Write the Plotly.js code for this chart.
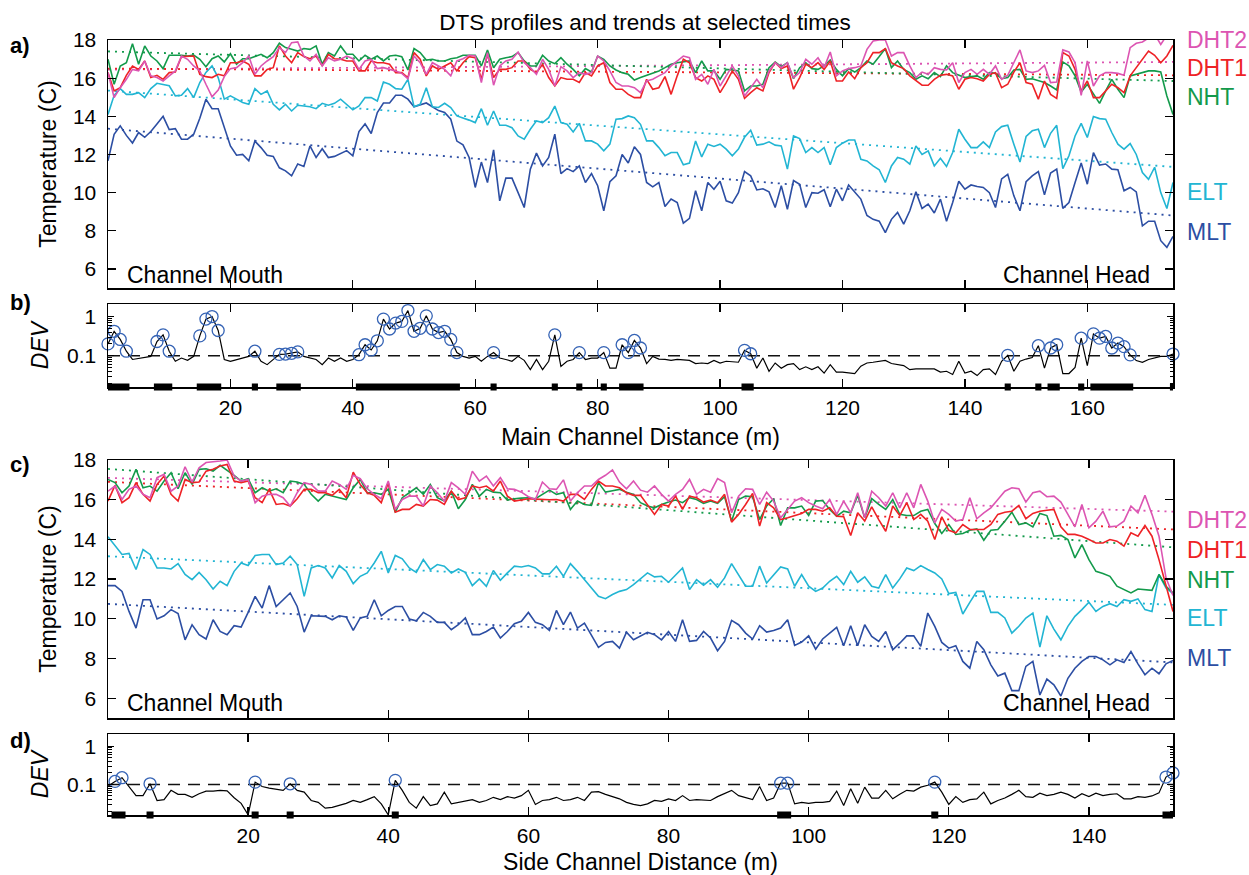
<!DOCTYPE html>
<html>
<head>
<meta charset="utf-8">
<script src="https://cdn.plot.ly/plotly-3.0.1.min.js"></script>
<style>html,body{margin:0;padding:0;background:#fff;}#chart{width:1249px;height:875px;}</style>
</head>
<body>
<div id="chart"></div>
<script>
// ---------- DATA ----------
const seriesNames = ['DHT2', 'DHT1', 'NHT', 'ELT', 'MLT'];
const distMain = Array.from({length: 175}, (_, i) => i);   // main channel distance (m)
const distSide = Array.from({length: 153}, (_, i) => i);   // side channel distance (m)

// Panel a: main channel temperatures (C)
const mltMain = [11.67,13.06,13.5,13.0,12.6,13.15,12.9,13.2,13.6,14.0,
13.3,13.35,12.8,12.8,13.06,13.9,14.9,14.4,14.4,13.4,
12.45,11.96,12.0,11.67,12.7,12.36,11.96,11.9,11.3,11.14,
10.88,11.5,11.37,12.45,11.84,12.3,11.84,11.9,12.05,12.2,
11.93,13.2,13.6,13.1,14.2,14.7,14.7,15.1,15.1,14.9,
14.5,14.6,14.7,14.5,14.3,14.2,13.85,12.7,12.5,11.84,
10.27,11.6,10.53,12.24,9.57,10.76,10.76,10.0,9.22,11.23,
12.07,11.4,11.84,13.06,11.0,11.26,11.1,11.4,10.53,11.0,
10.36,9.05,10.58,10.88,12.0,11.55,12.4,12.0,10.53,10.3,
10.53,9.27,9.66,9.48,8.4,8.65,10.1,9.05,10.53,10.18,
10.6,9.57,9.45,10.0,11.1,10.88,10.14,10.2,10.04,9.22,
10.36,9.13,10.63,10.44,9.22,10.0,9.97,10.15,9.26,10.18,
9.57,10.4,10.0,9.66,8.8,8.6,8.5,7.9,8.6,8.96,
8.35,9.05,10.04,9.17,9.4,8.93,9.66,8.5,9.48,10.6,
10.18,10.4,10.32,10.27,10.0,9.22,10.72,10.96,9.83,9.05,
10.57,10.88,11.1,9.88,11.03,11.23,9.17,9.48,10.53,11.55,
10.44,12.1,11.44,11.5,11.23,11.2,10.1,10.27,10.04,8.26,
8.5,8.5,7.48,7.13,7.7];
const eltMain = [14.1,15.1,15.45,15.15,15.15,15.24,14.98,15.45,15.73,15.68,
15.6,15.07,15.1,15.45,14.98,15.77,16.3,16.64,16.03,14.9,
15.07,14.9,14.72,14.63,15.45,15.15,15.33,14.63,14.34,14.63,
14.28,14.58,14.54,14.5,14.4,14.68,14.58,14.68,14.9,14.6,
14.34,14.54,14.98,14.98,14.8,15.8,15.68,15.45,15.42,15.94,
14.5,14.63,15.5,14.5,14.46,14.68,14.46,14.02,13.93,13.8,
13.67,14.4,13.53,14.28,13.53,13.53,13.4,12.97,12.8,13.32,
13.76,13.67,13.93,14.54,13.67,13.58,13.18,13.63,12.71,12.71,
12.54,12.19,12.54,13.85,13.88,14.02,13.93,13.58,12.71,12.71,
12.36,11.93,12.1,12.1,11.46,11.55,12.71,11.87,12.54,12.42,
12.54,12.28,11.93,12.28,12.9,13.27,12.49,12.54,12.66,12.49,
12.45,11.23,12.97,12.83,12.1,12.36,12.1,12.36,11.46,12.36,
12.59,12.76,12.76,11.75,11.66,11.4,11.2,10.53,11.4,11.84,
11.75,11.49,12.45,12.0,12.19,11.4,11.8,11.37,12.1,13.32,
12.8,12.36,12.36,12.66,12.36,13.18,13.46,13.53,12.54,11.6,
12.94,13.24,13.32,12.36,13.11,13.53,11.26,11.93,12.97,13.63,
12.89,13.99,13.88,13.85,13.15,12.54,12.28,12.57,12.0,11.05,
10.7,11.33,10.0,9.17,10.53];
const nhtMain = [16.99,15.68,16.64,16.81,17.8,16.73,17.69,17.16,16.9,16.5,
17.2,17.2,17.2,17.16,17.21,16.99,16.6,17.02,17.16,16.85,
17.28,16.73,17.02,17.02,17.13,17.25,17.07,17.34,17.83,17.6,
17.51,17.42,17.55,17.51,17.69,16.73,17.34,17.16,17.69,17.25,
17.25,16.9,17.2,16.99,17.16,16.9,17.16,17.2,17.13,16.43,
17.55,17.34,16.95,16.99,16.9,16.9,17.02,17.07,17.2,17.2,
17.2,16.64,17.48,16.55,16.99,17.07,17.13,17.34,16.9,16.64,
16.64,17.2,16.9,16.76,17.07,16.73,16.46,16.12,16.5,16.32,
17.16,16.99,16.64,16.43,16.29,16.2,15.9,16.03,16.15,16.29,
16.38,16.55,16.73,16.81,16.85,16.9,16.29,16.9,16.38,16.38,
15.94,16.46,16.43,16.38,15.33,15.59,15.59,15.68,16.55,16.85,
16.6,16.81,15.97,16.55,16.81,16.5,16.46,16.64,16.95,16.46,
16.12,16.5,16.32,16.55,16.9,16.73,17.13,17.55,16.55,16.9,
16.46,16.29,15.94,16.12,15.97,16.29,16.08,16.64,16.29,16.15,
16.03,16.08,16.12,15.94,16.29,16.25,15.97,16.03,16.43,16.46,
15.94,15.97,15.85,15.77,15.59,15.38,16.85,16.64,16.12,15.28,
15.68,15.15,14.68,15.33,15.94,15.42,14.98,16.12,16.2,16.32,
16.38,16.38,16.32,15.07,14.1];
const dht1Main = [16.29,15.33,15.5,16.15,16.64,16.46,16.9,16.03,16.15,15.94,
16.29,16.32,17.13,17.13,17.16,16.2,16.08,16.03,16.2,16.12,
16.81,16.81,16.9,16.73,16.12,16.12,16.46,16.55,17.69,17.16,
16.81,17.34,17.13,17.02,17.16,16.64,17.25,17.02,16.99,16.9,
16.9,16.38,16.38,16.9,16.81,16.81,16.73,16.29,16.29,16.03,
17.34,16.99,16.12,16.64,16.46,16.64,16.81,16.38,16.81,17.13,
17.07,15.94,17.25,16.03,16.46,16.46,16.55,16.9,16.9,16.46,
16.29,16.73,16.03,15.59,16.03,15.94,15.94,15.77,16.29,16.12,
16.64,16.81,15.77,15.42,15.42,15.15,14.98,14.98,15.94,15.42,
15.5,16.08,15.15,16.12,16.99,16.81,16.03,15.85,16.12,15.94,
15.24,15.77,16.38,15.94,14.94,15.24,15.5,15.33,16.29,16.81,
16.5,16.64,15.42,16.03,16.73,16.55,16.81,16.46,16.9,15.85,
15.85,16.32,15.97,16.55,16.81,17.34,17.34,17.55,16.81,16.64,
16.5,16.12,15.85,15.63,15.63,15.94,16.15,16.2,16.12,15.42,
15.94,16.03,15.97,15.85,16.2,16.29,15.5,15.68,16.32,16.81,
15.77,15.68,14.9,15.85,15.15,14.94,17.34,17.16,16.46,15.33,
15.85,14.98,14.98,15.33,15.68,15.5,15.24,16.12,16.55,17.02,
17.42,17.2,16.81,17.16,17.72];
const dht2Main = [16.29,14.98,15.5,15.94,16.46,16.38,16.9,16.12,16.03,15.85,
16.12,16.38,17.16,16.99,16.64,16.38,15.68,15.02,15.38,16.08,
16.5,16.55,16.81,17.16,16.2,16.64,16.9,17.13,17.6,17.34,
17.86,17.9,17.16,16.9,17.25,16.64,17.07,16.9,16.99,17.16,
17.02,16.46,16.9,16.99,16.5,16.55,16.46,16.38,16.25,15.97,
17.16,16.81,16.2,16.81,16.64,16.46,16.12,16.9,17.02,17.2,
17.16,15.77,17.34,15.63,16.64,16.9,16.99,17.37,16.81,16.55,
16.2,16.99,16.46,15.59,16.6,16.38,16.03,16.29,16.2,16.29,
17.16,16.9,16.38,15.77,15.59,15.59,15.5,15.24,15.85,15.94,
16.12,16.29,16.64,16.9,17.16,17.07,15.94,16.2,15.68,16.46,
15.59,16.12,16.64,16.12,15.07,15.5,15.94,15.5,16.38,16.81,
16.55,16.81,16.03,16.29,16.99,16.73,17.07,16.55,17.37,16.12,
16.38,16.5,16.55,16.64,17.51,17.95,18.0,18.0,17.16,17.34,
17.34,16.64,16.03,16.32,16.2,16.55,16.46,16.43,16.81,15.77,
16.29,16.46,16.2,16.46,16.2,16.64,15.94,16.15,16.81,17.48,
16.38,16.29,16.38,16.67,15.77,15.8,17.48,17.37,16.81,15.1,
16.9,15.59,16.12,16.29,16.29,16.25,16.15,17.6,17.83,17.9,
18.1,18.3,17.77,18.25,18.4];

// Linear trends (value at start, value at end of channel)
const trendMainStart = {DHT2: 16.45, DHT1: 16.5, NHT: 17.4, ELT: 15.35, MLT: 13.35};
const trendMainEnd   = {DHT2: 16.85, DHT1: 16.15, NHT: 15.85, ELT: 11.35, MLT: 8.8};

// Panel b: DEV for main channel
const devMain = [0.2,0.42,0.26,0.13,0.08,0.085,0.09,0.096,0.23,0.34,
0.13,0.072,0.087,0.076,0.096,0.32,0.86,1.0,0.44,0.08,
0.072,0.08,0.087,0.096,0.13,0.072,0.059,0.08,0.108,0.11,
0.115,0.125,0.096,0.087,0.08,0.059,0.087,0.072,0.087,0.072,
0.08,0.106,0.19,0.14,0.24,0.86,0.48,0.68,0.75,1.42,
0.42,0.5,1.04,0.48,0.39,0.42,0.26,0.12,0.096,0.087,
0.096,0.072,0.096,0.12,0.087,0.08,0.072,0.096,0.076,0.044,
0.08,0.044,0.072,0.34,0.053,0.072,0.08,0.12,0.08,0.087,
0.087,0.12,0.048,0.048,0.19,0.12,0.245,0.157,0.063,0.096,
0.082,0.08,0.076,0.08,0.078,0.076,0.063,0.065,0.063,0.076,
0.065,0.072,0.07,0.068,0.137,0.112,0.048,0.087,0.04,0.065,
0.048,0.059,0.063,0.044,0.052,0.044,0.052,0.036,0.059,0.038,
0.038,0.036,0.035,0.054,0.065,0.068,0.072,0.076,0.063,0.06,
0.056,0.044,0.046,0.046,0.046,0.046,0.038,0.04,0.033,0.072,
0.036,0.04,0.031,0.044,0.046,0.033,0.072,0.102,0.04,0.072,
0.082,0.09,0.18,0.048,0.157,0.19,0.035,0.035,0.05,0.28,
0.056,0.36,0.28,0.31,0.157,0.21,0.17,0.105,0.075,0.068,
0.08,0.088,0.096,0.096,0.11];

// Panel c: side channel temperatures (C)
const mltSide = [11.67,11.67,11.38,10.37,9.53,10.96,10.96,9.99,10.15,10.46,
10.26,8.94,9.7,9.2,8.98,9.95,9.36,9.2,9.65,9.58,
10.32,11.13,10.54,11.67,10.62,10.96,11.3,10.62,9.33,10.15,
10.15,10.12,9.95,10.15,10.09,9.41,10.04,10.12,10.96,10.15,
10.42,10.62,10.62,9.99,9.9,10.32,10.12,9.82,9.82,9.45,
9.7,10.04,9.2,9.2,9.36,9.58,9.03,9.36,9.75,9.87,
10.32,9.82,9.7,9.41,10.42,9.7,10.34,9.53,9.78,9.2,
8.56,8.81,8.86,8.52,9.32,8.94,9.14,9.32,9.2,8.94,
9.36,8.86,9.95,8.86,8.91,9.36,9.03,8.39,8.86,9.92,
9.7,9.28,8.98,9.65,9.33,9.41,9.53,9.95,8.66,8.83,
9.14,8.47,8.98,9.28,9.57,8.64,9.65,8.64,9.7,9.11,
8.86,9.36,8.44,8.77,9.14,9.14,8.61,10.29,9.62,8.81,
8.52,8.64,7.85,7.51,8.86,8.44,7.68,7.12,7.26,6.38,
6.38,7.6,7.85,6.16,6.96,6.67,6.11,7.0,7.51,7.85,
8.1,8.1,7.93,7.68,7.93,7.8,8.35,7.73,7.18,7.51,
7.23,7.73,7.9];
const eltSide = [14.13,13.66,13.24,13.29,12.48,13.49,13.24,12.56,12.56,12.51,
12.78,12.23,11.97,12.34,11.97,11.5,11.89,11.67,12.39,12.81,
12.68,13.19,13.24,13.24,12.73,12.81,13.15,12.73,11.13,12.56,
12.68,12.56,12.06,12.68,12.39,11.77,12.14,12.31,12.81,13.4,
12.31,13.19,13.02,12.56,12.34,12.98,12.48,12.73,12.65,12.31,
12.51,12.34,11.67,12.01,11.64,12.43,11.94,12.31,12.65,12.61,
12.68,12.56,12.26,12.26,12.65,12.14,12.78,12.39,11.97,11.5,
11.13,11.01,11.22,11.38,11.47,11.72,12.01,12.31,12.11,12.14,
11.84,12.18,12.56,11.47,11.97,11.69,11.97,11.59,12.06,12.78,
12.18,11.64,11.64,12.65,11.8,12.18,12.61,12.51,11.64,12.23,
11.64,11.38,11.55,11.89,12.14,11.72,12.39,11.84,12.11,11.64,
11.55,12.23,11.55,12.01,12.56,12.43,12.68,12.48,12.31,12.01,
11.27,11.33,10.24,10.83,11.38,11.38,10.32,10.32,10.04,9.28,
9.62,10.04,10.29,8.57,10.15,9.48,8.94,9.62,10.12,10.46,
10.83,10.37,10.62,10.76,10.62,10.96,10.88,11.0,10.46,10.37,
12.23,11.55,11.27];
const nhtSide = [17.02,16.86,16.35,16.69,17.53,16.6,16.69,16.43,16.94,17.36,
16.55,17.36,16.77,17.53,17.56,17.44,17.73,17.5,17.23,16.94,
17.06,16.35,16.6,16.43,16.55,16.35,16.94,16.89,16.77,16.27,
15.93,16.27,16.18,16.1,16.01,16.6,17.02,16.35,16.35,16.27,
16.52,15.37,16.1,16.35,16.6,16.27,16.77,16.1,15.93,16.43,
15.54,16.01,16.77,16.18,16.52,16.38,16.35,15.98,16.05,16.08,
16.1,16.05,16.27,16.48,16.27,16.35,15.51,15.93,15.76,15.71,
16.86,16.38,16.45,16.52,16.38,16.27,15.85,15.68,15.59,15.76,
15.88,15.98,15.85,16.1,16.01,15.81,15.93,15.81,16.15,14.92,
16.01,16.18,16.15,15.0,15.68,16.05,14.7,15.59,15.59,15.68,
15.2,15.93,15.96,15.51,15.17,15.42,15.34,16.22,15.09,16.05,
15.76,15.51,16.01,15.26,15.2,15.2,15.42,15.51,14.8,14.3,
14.75,14.25,14.3,14.46,14.53,13.96,14.46,14.5,14.92,15.37,
14.75,14.83,14.63,15.31,15.2,14.16,14.2,13.99,13.07,13.74,
12.98,12.39,12.28,12.14,11.64,11.47,11.3,11.5,11.47,11.43,
12.23,11.64,11.3];
const dht1Side = [15.93,16.72,15.85,16.1,16.86,16.27,15.93,16.77,17.19,16.27,
15.93,17.02,16.86,16.89,17.44,17.53,17.7,17.78,16.94,16.86,
16.94,16.1,15.85,16.52,15.76,15.81,15.68,16.05,16.52,16.52,
16.35,16.35,16.22,16.52,16.1,17.39,16.77,16.35,16.22,15.85,
16.86,15.37,15.51,15.51,15.76,15.68,16.01,15.98,15.76,16.43,
16.01,16.1,16.69,16.6,16.69,16.43,16.94,16.18,15.93,16.0,
16.05,16.03,16.01,16.0,16.01,15.93,16.27,16.27,16.01,16.52,
16.94,16.69,16.69,16.6,16.35,16.22,16.22,15.76,15.26,15.76,
15.68,16.18,15.51,16.18,16.1,15.88,15.98,15.85,16.27,14.87,
15.26,15.76,16.32,14.67,15.85,15.59,15.0,15.09,15.2,15.31,
15.51,15.51,15.42,15.59,15.17,15.14,14.2,15.34,14.92,15.64,
15.0,14.41,15.68,15.2,15.85,15.0,15.26,14.92,13.99,15.14,
14.46,14.33,14.75,14.5,14.5,14.5,14.75,15.26,15.37,15.42,
15.71,15.04,15.31,15.42,15.47,15.51,14.63,14.25,14.25,14.16,
13.99,13.82,13.82,13.99,13.91,13.66,14.33,14.16,14.7,14.16,
12.98,11.64,10.37];
const dht2Side = [16.43,16.69,16.01,16.52,16.69,16.27,16.1,17.11,17.28,16.43,
16.69,17.66,16.89,17.61,17.87,17.9,17.95,18.0,17.19,16.94,
17.02,15.85,16.18,16.27,16.27,16.1,15.68,16.35,16.86,16.77,
16.43,16.43,16.94,16.77,16.52,17.23,17.06,16.55,16.27,16.05,
16.94,15.51,16.01,16.18,16.18,15.68,16.69,16.35,15.93,16.86,
16.6,16.27,17.44,16.94,17.19,16.69,17.11,16.55,16.52,16.38,
16.15,16.01,16.89,16.55,16.52,17.0,15.93,16.35,16.69,16.69,
17.02,17.23,17.5,16.89,16.55,16.94,16.48,16.38,16.69,16.27,
15.93,16.27,16.52,17.02,16.27,16.52,16.38,17.06,16.86,15.34,
16.18,16.55,16.52,15.76,16.38,15.93,15.09,15.51,15.93,16.1,
15.85,15.68,15.54,16.01,15.26,15.93,15.34,16.35,15.09,16.43,
16.1,15.68,16.35,15.59,16.35,15.59,16.77,15.93,14.83,15.51,
15.26,14.92,15.0,16.1,15.04,15.34,15.59,16.01,16.43,16.6,
16.55,15.88,16.35,16.43,16.15,16.18,15.88,15.26,14.63,15.76,
14.58,14.92,15.42,14.63,14.67,14.92,15.68,15.34,16.22,15.26,
14.16,12.06,11.17];

const trendSideStart = {DHT2: 17.1, DHT1: 16.9, NHT: 17.55, ELT: 13.15, MLT: 10.75};
const trendSideEnd   = {DHT2: 15.4, DHT1: 14.5, NHT: 13.6, ELT: 10.7, MLT: 7.8};

// Panel d: DEV for side channel
const devSide = [0.09,0.12,0.15,0.085,0.051,0.051,0.104,0.038,0.04,0.07,
0.055,0.055,0.046,0.057,0.067,0.067,0.07,0.068,0.045,0.032,
0.016,0.115,0.088,0.08,0.075,0.07,0.104,0.07,0.063,0.038,
0.034,0.024,0.025,0.028,0.032,0.038,0.034,0.04,0.048,0.031,
0.016,0.128,0.07,0.034,0.024,0.048,0.028,0.031,0.063,0.031,
0.034,0.038,0.04,0.034,0.038,0.046,0.04,0.048,0.044,0.051,
0.07,0.03,0.038,0.04,0.046,0.038,0.04,0.046,0.038,0.063,
0.065,0.055,0.048,0.042,0.034,0.03,0.028,0.031,0.038,0.036,
0.042,0.038,0.051,0.038,0.04,0.039,0.038,0.048,0.059,0.07,
0.051,0.045,0.04,0.088,0.038,0.044,0.108,0.108,0.031,0.034,
0.032,0.034,0.034,0.036,0.067,0.028,0.077,0.032,0.085,0.044,
0.044,0.07,0.042,0.055,0.07,0.067,0.085,0.095,0.115,0.063,
0.03,0.048,0.034,0.04,0.042,0.063,0.031,0.038,0.044,0.055,
0.07,0.048,0.046,0.059,0.051,0.055,0.063,0.055,0.044,0.057,
0.048,0.059,0.051,0.055,0.057,0.042,0.042,0.048,0.046,0.05,
0.06,0.156,0.2];

const devThreshold = 0.1;
const tempTicks = [6, 8, 10, 12, 14, 16, 18];
const mainTicks = [20, 40, 60, 80, 100, 120, 140, 160];
const sideTicks = [20, 40, 60, 80, 100, 120, 140];
const devTickVals = [0.1, 1];
const devTickText = ['0.1', '1'];

// ---------- STYLE ----------
const colors = {DHT2: '#dc55b2', DHT1: '#ee2226', NHT: '#139a4b', ELT: '#22b5d3', MLT: '#2c4ea3'};
const circleColor = '#3563b5';
const FONT = 'Liberation Sans, Arial, Helvetica, sans-serif';
const W = 1249, H = 875;
const M = {l: 108, r: 76, t: 40, b: 50};
const devLogRange = [-1.8, 0.32];
const px = x => (x - M.l) / (W - M.l - M.r);
const py = y => (H - M.b - y) / (H - M.t - M.b);

// ---------- TRACES ----------
const traces = [];
function addPanel(dist, dataMap, tStart, tEnd, xa, ya) {
  const xEnd = dist[dist.length - 1];
  seriesNames.forEach(n => {
    traces.push({x: [dist[0], xEnd], y: [tStart[n], tEnd[n]], xaxis: xa, yaxis: ya,
      mode: 'lines', line: {color: colors[n], width: 1.8, dash: '2px,5px'}, hoverinfo: 'skip'});
  });
  ['MLT', 'ELT', 'NHT', 'DHT1', 'DHT2'].forEach(n => {
    traces.push({x: dist, y: dataMap[n], xaxis: xa, yaxis: ya, mode: 'lines', name: n,
      line: {color: colors[n], width: 1.6}});
  });
}
addPanel(distMain, {DHT2: dht2Main, DHT1: dht1Main, NHT: nhtMain, ELT: eltMain, MLT: mltMain},
  trendMainStart, trendMainEnd, 'x', 'y');
addPanel(distSide, {DHT2: dht2Side, DHT1: dht1Side, NHT: nhtSide, ELT: eltSide, MLT: mltSide},
  trendSideStart, trendSideEnd, 'x3', 'y3');

function addDev(dist, dev, xa, ya, barAxis) {
  const xEnd = dist[dist.length - 1];
  traces.push({x: [dist[0], xEnd], y: [devThreshold, devThreshold], xaxis: xa, yaxis: ya,
    mode: 'lines', line: {color: '#111', width: 1.6, dash: '12px,8px'}, hoverinfo: 'skip'});
  traces.push({x: dist, y: dev, xaxis: xa, yaxis: ya, mode: 'lines', line: {color: '#000', width: 1.2}});
  const fx = [], fy = [];
  dist.forEach((d, i) => { if (dev[i] > devThreshold) { fx.push(d); fy.push(dev[i]); } });
  traces.push({x: fx, y: fy, xaxis: xa, yaxis: ya, mode: 'markers', cliponaxis: false,
    marker: {symbol: 'circle-open', size: 12, color: circleColor, line: {width: 1.3, color: circleColor}}});
  // solid bars under runs of consecutive flagged samples, on a thin strip axis straddling the bottom axis line
  const bx = [], by = [];
  let runStart = null, prev = null;
  fx.forEach(d => {
    if (runStart === null) { runStart = d; }
    else if (d - prev > 1) { bx.push(runStart - 0.5, prev + 0.5, null); by.push(0.5, 0.5, null); runStart = d; }
    prev = d;
  });
  if (runStart !== null) { bx.push(runStart - 0.5, prev + 0.5, null); by.push(0.5, 0.5, null); }
  traces.push({x: bx, y: by, xaxis: xa, yaxis: barAxis, mode: 'lines', connectgaps: false,
    line: {color: '#000', width: 7}, hoverinfo: 'skip'});
}
addDev(distMain, devMain, 'x2', 'y2', 'y5');
addDev(distSide, devSide, 'x4', 'y4', 'y6');

// ---------- LAYOUT ----------
const tickFont = {family: FONT, size: 21, color: '#000'};
const baseAxis = {showline: true, linecolor: '#000', linewidth: 1.5, mirror: 'ticks',
  ticks: 'inside', ticklen: 8, tickwidth: 1.3, tickcolor: '#000', showgrid: false, zeroline: false,
  tickfont: tickFont, fixedrange: true};
const minorVals = [0.02,0.03,0.04,0.05,0.06,0.07,0.08,0.09,0.2,0.3,0.4,0.5,0.6,0.7,0.8,0.9,2];
const devAxis = (domain) => Object.assign({}, baseAxis, {type: 'log', domain: domain, range: devLogRange,
  tickmode: 'array', tickvals: devTickVals, ticktext: devTickText, ticklen: 6, ticklabelstandoff: 6,
  minor: {tickmode: 'array', tickvals: minorVals, ticks: 'inside', ticklen: 3.5, tickwidth: 1, tickcolor: '#000'},
  title: {text: '<i>DEV</i>', font: {family: FONT, size: 23}, standoff: 12}});
const tempAxis = (domain) => Object.assign({}, baseAxis, {domain: domain, range: [5, 18],
  tickmode: 'array', tickvals: tempTicks, ticklabelstandoff: 6,
  title: {text: 'Temperature (C)', font: {family: FONT, size: 23}, standoff: 10}});
const stripAxis = (anchor, yBottom) => ({domain: [py(yBottom + 4.5), py(yBottom - 4.5)], anchor: anchor,
  range: [0, 1], visible: false, fixedrange: true, showgrid: false, zeroline: false, showline: false});

const dA = [py(288), py(40)], dB = [py(387), py(304)], dC = [py(718), py(460)], dD = [py(815), py(734)];

const ann = [];
function text(t, x, y, opts) {
  ann.push(Object.assign({text: t, xref: 'paper', yref: 'paper', x: px(x), y: py(y),
    xanchor: 'left', yanchor: 'middle', showarrow: false, font: {family: FONT, size: 23, color: '#000'}}, opts || {}));
}
text('<b>a)</b>', 8, 45, {font: {family: FONT, size: 22, color: '#000'}});
text('<b>b)</b>', 8, 302, {font: {family: FONT, size: 22, color: '#000'}});
text('<b>c)</b>', 8, 464, {font: {family: FONT, size: 22, color: '#000'}});
text('<b>d)</b>', 8, 740, {font: {family: FONT, size: 22, color: '#000'}});
text('Channel Mouth', 125, 275);
text('Channel Head', 1152, 275, {xanchor: 'right'});
text('Channel Mouth', 125, 703);
text('Channel Head', 1152, 703, {xanchor: 'right'});
const labA = {DHT2: 40, DHT1: 68, NHT: 97, ELT: 192, MLT: 232};
const labC = {DHT2: 520, DHT1: 550, NHT: 580, ELT: 618, MLT: 658};
seriesNames.forEach(n => {
  text(n, 1185, labA[n], {font: {family: FONT, size: 23, color: colors[n]}});
  text(n, 1185, labC[n], {font: {family: FONT, size: 23, color: colors[n]}});
});

const layout = {
  width: W, height: H, margin: M, showlegend: false,
  paper_bgcolor: '#fff', plot_bgcolor: 'rgba(0,0,0,0)',
  font: {family: FONT, color: '#000'},
  title: {text: 'DTS profiles and trends at selected times', font: {family: FONT, size: 22.5, color: '#000'},
    x: px(645), xref: 'paper', xanchor: 'center', y: 1 - 22 / H, yref: 'container', yanchor: 'middle'},
  xaxis: Object.assign({}, baseAxis, {anchor: 'y', range: [0, 174], tickmode: 'array', tickvals: mainTicks, showticklabels: false}),
  yaxis: tempAxis(dA),
  xaxis2: Object.assign({}, baseAxis, {anchor: 'y2', range: [0, 174], tickmode: 'array', tickvals: mainTicks, ticklabelstandoff: 1,
    title: {text: 'Main Channel Distance (m)', font: {family: FONT, size: 23}, standoff: 11}}),
  yaxis2: devAxis(dB),
  xaxis3: Object.assign({}, baseAxis, {anchor: 'y3', range: [0, 152], tickmode: 'array', tickvals: sideTicks, showticklabels: false}),
  yaxis3: tempAxis(dC),
  xaxis4: Object.assign({}, baseAxis, {anchor: 'y4', range: [0, 152], tickmode: 'array', tickvals: sideTicks, ticklabelstandoff: 1,
    title: {text: 'Side Channel Distance (m)', font: {family: FONT, size: 23}, standoff: 11}}),
  yaxis4: devAxis(dD),
  yaxis5: stripAxis('x2', 387),
  yaxis6: stripAxis('x4', 815),
  annotations: ann
};

Plotly.newPlot('chart', traces, layout, {staticPlot: true, displayModeBar: false});
</script>
</body>
</html>
